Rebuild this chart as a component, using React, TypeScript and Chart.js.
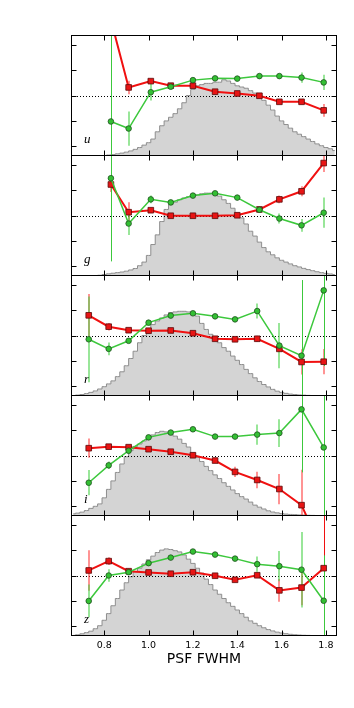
import React, { useEffect, useRef } from "react";
import { Chart, registerables } from "chart.js";
Chart.register(...registerables);

// ---------- axes ----------
const X_MIN = 0.65;
const X_MAX = 1.85;
const Y_MIN = -2.4;
const Y_MAX = 2.4;
const X_TICKS = [0.8, 1.0, 1.2, 1.4, 1.6, 1.8];
const Y_TICKS = [-2, -1, 0, 1, 2];
const X_LABEL = "PSF FWHM";

// ---------- binned points ----------
const X_UG = [0.83, 0.91, 1.01, 1.1, 1.2, 1.3, 1.4, 1.5, 1.59, 1.69, 1.79];
const X_RIZ = [0.73, 0.82, 0.91, 1.0, 1.1, 1.2, 1.3, 1.39, 1.49, 1.59, 1.69, 1.79];

const U_RED = [3.0, 0.32, 0.57, 0.39, 0.39, 0.15, 0.08, -0.01, -0.25, -0.25, -0.59];
const U_RED_ERR = [0.5, 0.27, 0.08, 0.05, 0.05, 0.05, 0.05, 0.05, 0.08, 0.1, 0.25];
const U_GREEN = [-1.03, -1.31, 0.13, 0.35, 0.61, 0.68, 0.67, 0.77, 0.77, 0.71, 0.52];
const U_GREEN_ERR = [4.0, 0.68, 0.33, 0.08, 0.05, 0.05, 0.05, 0.05, 0.08, 0.2, 0.3];

const G_RED = [1.23, 0.13, 0.21, -0.01, -0.01, -0.01, 0.01, 0.24, 0.64, 0.96, 2.08];
const G_RED_ERR = [0.3, 0.4, 0.1, 0.05, 0.04, 0.04, 0.05, 0.08, 0.15, 0.2, 0.35];
const G_GREEN = [1.48, -0.32, 0.64, 0.52, 0.79, 0.88, 0.71, 0.23, -0.12, -0.39, 0.11];
const G_GREEN_ERR = [3.3, 0.45, 0.15, 0.05, 0.05, 0.05, 0.05, 0.1, 0.2, 0.25, 0.6];

const R_RED = [0.8, 0.35, 0.21, 0.19, 0.2, 0.09, -0.13, -0.15, -0.13, -0.53, -1.05, -1.04];
const R_RED_ERR = [0.85, 0.15, 0.05, 0.05, 0.05, 0.05, 0.05, 0.05, 0.12, 0.1, 0.5, 0.5];
const R_GREEN = [-0.15, -0.53, -0.21, 0.51, 0.79, 0.88, 0.76, 0.64, 0.97, -0.4, -0.8, 1.79];
const R_GREEN_ERR = [1.7, 0.25, 0.05, 0.05, 0.05, 0.05, 0.05, 0.08, 0.3, 0.9, 3.0, 3.0];

const I_RED = [0.29, 0.35, 0.33, 0.25, 0.15, 0.01, -0.2, -0.65, -0.97, -1.33, -1.97, -3.9];
const I_RED_ERR = [0.38, 0.05, 0.05, 0.05, 0.05, 0.05, 0.05, 0.2, 0.33, 0.6, 1.4, 1.5];
const I_GREEN = [-1.08, -0.39, 0.19, 0.72, 0.91, 1.04, 0.75, 0.75, 0.83, 0.89, 1.83, 0.32];
const I_GREEN_ERR = [0.5, 0.15, 0.05, 0.05, 0.05, 0.05, 0.1, 0.1, 0.4, 0.55, 2.5, 3.0];

const Z_RED = [0.2, 0.57, 0.17, 0.12, 0.07, 0.13, -0.01, -0.17, 0.01, -0.59, -0.48, 0.29];
const Z_RED_ERR = [0.8, 0.15, 0.05, 0.05, 0.05, 0.05, 0.05, 0.08, 0.1, 0.45, 0.7, 2.4];
const Z_GREEN = [-1.01, 0.0, 0.13, 0.49, 0.71, 0.95, 0.83, 0.67, 0.45, 0.37, 0.23, -1.0];
const Z_GREEN_ERR = [0.65, 0.25, 0.05, 0.05, 0.05, 0.05, 0.08, 0.08, 0.3, 0.6, 1.5, 1.8];

// ---------- histograms (bin centres, relative counts in % of panel) ----------
const HIST_X = [
  0.66, 0.68, 0.7, 0.72, 0.74, 0.76, 0.78, 0.8, 0.82, 0.84,
  0.86, 0.88, 0.9, 0.92, 0.94, 0.96, 0.98, 1.0, 1.02, 1.04,
  1.06, 1.08, 1.1, 1.12, 1.14, 1.16, 1.18, 1.2, 1.22, 1.24,
  1.26, 1.28, 1.3, 1.32, 1.34, 1.36, 1.38, 1.4, 1.42, 1.44,
  1.46, 1.48, 1.5, 1.52, 1.54, 1.56, 1.58, 1.6, 1.62, 1.64,
  1.66, 1.68, 1.7, 1.72, 1.74, 1.76, 1.78, 1.8, 1.82, 1.84,
];
const HIST_U = [
  0, 0, 0, 0, 0, 0, 0.2, 0.4, 0.8, 1.2,
  1.8, 2.4, 3.2, 4.2, 5.5, 7, 9, 11, 14, 20,
  25, 29, 32, 35, 39, 44, 50, 55, 58, 59,
  60, 60, 61, 61, 63, 62, 60, 58, 57, 56,
  54, 52, 50, 46, 42, 38, 33, 29, 26, 23,
  20, 18, 16, 14, 12, 10, 8.5, 7, 6, 4.5,
];
const HIST_G = [
  0, 0, 0, 0, 0, 0.3, 0.6, 1.2, 1.8, 2.3,
  2.8, 3.3, 4, 5, 6.2, 8.5, 11.5, 17, 26, 34,
  45, 55, 59, 61, 63, 64.5, 65.5, 66.5, 67, 68,
  68.5, 68.5, 68, 66, 63, 60, 56, 52, 48, 43,
  37, 33, 28, 23.5, 20, 17.5, 15, 13, 11.5, 10,
  8.5, 7.5, 6.3, 5.3, 4.4, 3.5, 2.8, 2.2, 1.7, 1.2,
];
const HIST_R = [
  0.3, 0.8, 1.2, 2, 3, 4.2, 5.8, 7.7, 10, 12.5,
  16, 20, 25, 31, 37, 44, 50, 55, 59, 62,
  64.5, 67, 69, 69.5, 70, 70, 69.5, 69, 66, 60,
  55, 51, 48, 44, 40, 37, 33, 29.5, 26, 22,
  18.5, 15, 12, 9.5, 7.5, 5.5, 4, 3, 2.2, 1.6,
  1.2, 0.9, 0.7, 0.5, 0.4, 0.3, 0.2, 0.2, 0.1, 0.1,
];
const HIST_I = [
  1.8, 2.4, 3.2, 4.5, 6.3, 8, 10, 15, 22, 29,
  36, 43, 49, 54, 57.5, 59.5, 62, 64, 67, 69,
  70, 69.5, 68, 66, 63.5, 60, 57, 52, 48.5, 45,
  41, 37.5, 34, 31, 27.5, 24.5, 21.5, 18.5, 16, 14,
  11.5, 9, 7.3, 5.8, 4.3, 3.3, 2.6, 2, 1.6, 1.3,
  1.1, 0.9, 0.8, 0.6, 0.5, 0.4, 0.3, 0.3, 0.2, 0.2,
];
const HIST_Z = [
  0.5, 1, 1.8, 2.8, 4, 6, 8.5, 13, 18.5, 25,
  31, 38, 44, 49, 53, 56, 59.5, 63, 66, 69,
  71, 72, 71.5, 70.5, 69.5, 67, 63.5, 60, 56, 52,
  47, 42.5, 38, 34.5, 31, 27.5, 24.5, 21.5, 18.5, 15.5,
  12.5, 10.5, 8.5, 6.8, 5.3, 4.2, 3.2, 2.5, 1.9, 1.4,
  1, 0.8, 0.6, 0.5, 0.4, 0.3, 0.2, 0.2, 0.1, 0.1,
];

const BANDS = ["u", "g", "r", "i", "z"];
const PANELS = [
  { band: BANDS[0], xs: X_UG, red: U_RED, redErr: U_RED_ERR, green: U_GREEN, greenErr: U_GREEN_ERR, hist: HIST_U },
  { band: BANDS[1], xs: X_UG, red: G_RED, redErr: G_RED_ERR, green: G_GREEN, greenErr: G_GREEN_ERR, hist: HIST_G },
  { band: BANDS[2], xs: X_RIZ, red: R_RED, redErr: R_RED_ERR, green: R_GREEN, greenErr: R_GREEN_ERR, hist: HIST_R },
  { band: BANDS[3], xs: X_RIZ, red: I_RED, redErr: I_RED_ERR, green: I_GREEN, greenErr: I_GREEN_ERR, hist: HIST_I },
  { band: BANDS[4], xs: X_RIZ, red: Z_RED, redErr: Z_RED_ERR, green: Z_GREEN, greenErr: Z_GREEN_ERR, hist: HIST_Z },
];

// ---------- styling ----------
const W = 354;
const PANEL_TOP = 35;
const PANEL_STEP = 120;
const PANEL_H = 121;
const XAXIS_H = 32;
const PAD_LEFT = 71;
const PAD_RIGHT = 17;
const RED = "#f01010";
const RED_LIGHT = "rgba(255,60,60,0.55)";
const GREEN = "#3cc83c";
const GREEN_LIGHT = "rgba(70,210,70,0.55)";

function makeDecor(p: any) {
  return {
    id: "decor",
    afterDatasetDraw(chart: any, args: any) {
      if (args.meta.yAxisID !== "yh") return;
      const { ctx, chartArea: a, scales } = chart;
      const xS = scales.x;
      const yS = scales.y;
      ctx.save();
      ctx.beginPath();
      ctx.rect(a.left, a.top, a.right - a.left, a.bottom - a.top);
      ctx.clip();
      // band label
      ctx.fillStyle = "#000";
      ctx.font = 'italic 13px "Liberation Serif"';
      ctx.textAlign = "left";
      ctx.textBaseline = "alphabetic";
      ctx.fillText(p.band, a.left + 13, a.bottom - 13);
      // dotted zero line
      const y0 = Math.round(yS.getPixelForValue(0)) + 0.5;
      ctx.strokeStyle = "#000";
      ctx.lineWidth = 1;
      ctx.setLineDash([1, 2]);
      ctx.beginPath();
      ctx.moveTo(a.left, y0);
      ctx.lineTo(a.right, y0);
      ctx.stroke();
      ctx.setLineDash([]);
      // error bars
      const series = [
        { vals: p.red, errs: p.redErr, full: RED, light: RED_LIGHT },
        { vals: p.green, errs: p.greenErr, full: GREEN, light: GREEN_LIGHT },
      ];
      for (const s of series) {
        p.xs.forEach((x: number, i: number) => {
          const v = s.vals[i];
          const e = s.errs[i];
          const big = e >= 1.75;
          const px = big ? Math.round(xS.getPixelForValue(x)) + 0.5 : Math.round(xS.getPixelForValue(x));
          ctx.strokeStyle = big ? s.full : s.light;
          ctx.lineWidth = big ? 1 : 2;
          ctx.beginPath();
          ctx.moveTo(px, yS.getPixelForValue(v - e));
          ctx.lineTo(px, yS.getPixelForValue(v + e));
          ctx.stroke();
        });
      }
      ctx.restore();
    },
    afterDraw(chart: any) {
      const { ctx, chartArea: a, scales } = chart;
      const xS = scales.x;
      const yS = scales.y;
      ctx.save();
      ctx.strokeStyle = "#000";
      ctx.lineWidth = 1;
      const L = a.left + 0.5;
      const R = a.right - 0.5;
      const T = a.top + 0.5;
      const B = a.bottom - 0.5;
      const tl = 5;
      ctx.beginPath();
      for (const t of X_TICKS) {
        const x = Math.round(xS.getPixelForValue(t)) + 0.5;
        ctx.moveTo(x, B);
        ctx.lineTo(x, B - tl);
        ctx.moveTo(x, T);
        ctx.lineTo(x, T + tl);
      }
      for (const t of Y_TICKS) {
        const y = Math.round(yS.getPixelForValue(t)) + 0.5;
        ctx.moveTo(L, y);
        ctx.lineTo(L + tl, y);
        ctx.moveTo(R, y);
        ctx.lineTo(R - tl, y);
      }
      ctx.stroke();
      ctx.strokeRect(L, T, R - L, B - T);
      ctx.restore();
    },
  };
}

function Panel({ idx }: { idx: number }) {
  const ref = useRef<HTMLCanvasElement>(null);
  const p = PANELS[idx];
  const isBottom = idx === PANELS.length - 1;
  const h = PANEL_H + (isBottom ? XAXIS_H : 0);
  const top = PANEL_TOP + PANEL_STEP * idx;

  useEffect(() => {
    if (!ref.current) return;
    const chart = new Chart(ref.current, {
      type: "line",
      data: {
        datasets: [
          {
            label: "green",
            data: p.xs.map((x, i) => ({ x, y: p.green[i] })),
            borderColor: GREEN,
            borderWidth: 1.5,
            pointStyle: "circle",
            pointRadius: 2.8,
            pointBackgroundColor: "#33c033",
            pointBorderColor: "#1f4f1f",
            pointBorderWidth: 0.8,
            yAxisID: "y",
            order: 1,
          },
          {
            label: "red",
            data: p.xs.map((x, i) => ({ x, y: p.red[i] })),
            borderColor: RED,
            borderWidth: 2,
            pointStyle: "rect",
            pointRadius: 4,
            pointBackgroundColor: "#e81414",
            pointBorderColor: "#5a0a0a",
            pointBorderWidth: 0.8,
            yAxisID: "y",
            order: 2,
          },
          {
            label: "hist",
            data: HIST_X.map((x, i) => ({ x, y: p.hist[i] })),
            stepped: "middle",
            fill: "origin",
            backgroundColor: "#d4d4d4",
            borderColor: "#8e8e8e",
            borderWidth: 1,
            pointRadius: 0,
            yAxisID: "yh",
            order: 3,
          },
        ],
      } as any,
      options: {
        animation: false,
        responsive: false,
        maintainAspectRatio: false,
        events: [],
        layout: { autoPadding: false, padding: { left: PAD_LEFT, right: PAD_RIGHT, top: 0, bottom: 0 } },
        plugins: { legend: { display: false }, tooltip: { enabled: false } },
        scales: {
          x: {
            type: "linear",
            min: X_MIN,
            max: X_MAX,
            display: isBottom,
            afterBuildTicks: (s: any) => {
              s.ticks = X_TICKS.map((v) => ({ value: v }));
            },
            afterFit: (s: any) => {
              s.height = isBottom ? XAXIS_H : 0;
            },
            grid: { display: false, drawTicks: false },
            border: { display: false },
            ticks: {
              color: "#000",
              font: { family: '"DejaVu Sans"', size: 9.5 },
              padding: 4,
              maxRotation: 0,
              autoSkip: false,
              callback: (v: any) => Number(v).toFixed(1),
            },
            title: {
              display: true,
              text: X_LABEL,
              color: "#000",
              font: { family: '"DejaVu Sans"', size: 14 },
              padding: { top: 0, bottom: 0 },
            },
          },
          y: { type: "linear", min: Y_MIN, max: Y_MAX, display: false },
          yh: { type: "linear", min: 0, max: 100, display: false },
        },
      } as any,
      plugins: [makeDecor(p)],
    });
    return () => chart.destroy();
  }, []);

  return (
    <canvas
      ref={ref}
      width={W}
      height={h}
      style={{ position: "absolute", left: 0, top, width: W, height: h, display: "block" }}
    />
  );
}

export default function App() {
  return (
    <div style={{ position: "absolute", left: 0, top: 0, width: W, height: 708, background: "#fff" }}>
      {PANELS.map((_, i) => (
        <Panel key={i} idx={i} />
      ))}
    </div>
  );
}
